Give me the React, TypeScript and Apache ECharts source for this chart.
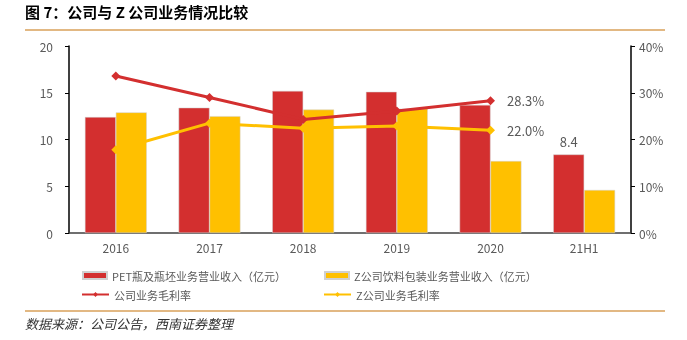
import React, { useEffect, useRef } from "react";
import * as echarts from "echarts";

const categories = ["2016", "2017", "2018", "2019", "2020", "21H1"];
const petRevenue = [12.4, 13.4, 15.2, 15.1, 13.7, 8.4];
const zRevenue = [12.9, 12.5, 13.2, 13.3, 7.7, 4.6];
const companyMargin = [33.6, 29.0, 24.3, 26.1, 28.3, null];
const zMargin = [17.8, 23.5, 22.4, 22.9, 22.0, null];
const leftTicks = { min: 0, max: 20, interval: 5 };
const rightTicks = { min: 0, max: 40, interval: 10 };

const RED = "#D32F2F";
const YELLOW = "#FFC000";
const GRAY = "#595959";
const FONT = "'Noto Sans CJK SC', 'Noto Sans', sans-serif";

export default function App() {
  const ref = useRef<HTMLDivElement>(null);
  useEffect(() => {
    const chart = echarts.init(ref.current!, null, { renderer: "svg" });
    const lastIdx = 4;
    const legendText = { color: GRAY, fontSize: 11 };
    chart.setOption({
      animation: false,
      textStyle: { fontFamily: FONT },
      grid: { left: 69, right: 56, top: 46, bottom: 107 },
      graphic: [
        {
          type: "text",
          left: 25,
          top: 4,
          style: { text: "图 7：公司与 Z 公司业务情况比较", font: `bold 15px ${FONT}`, fill: "#000" },
        },
        { type: "line", shape: { x1: 25, y1: 30, x2: 665, y2: 30 }, style: { stroke: "#D9A15A", lineWidth: 1.5 } },
        { type: "line", shape: { x1: 25, y1: 311, x2: 665, y2: 311 }, style: { stroke: "#D9A15A", lineWidth: 1.5 } },
        {
          type: "text",
          left: 25,
          top: 317,
          style: { text: "数据来源：公司公告，西南证券整理", font: `italic 13px ${FONT}`, fill: "#333" },
        },
      ],
      legend: [
        {
          left: 77, top: 265, itemWidth: 24, itemHeight: 7, itemGap: 10,
          textStyle: legendText,
          data: [{ name: "PET瓶及瓶坯业务营业收入（亿元）", icon: "rect" }],
        },
        {
          left: 319, top: 265, itemWidth: 24, itemHeight: 7,
          textStyle: legendText,
          data: [{ name: "Z公司饮料包装业务营业收入（亿元）", icon: "rect" }],
        },
        {
          left: 76, top: 284, itemWidth: 27, itemHeight: 6,
          textStyle: legendText,
          data: ["公司业务毛利率"],
        },
        {
          left: 318, top: 284, itemWidth: 27, itemHeight: 6,
          textStyle: legendText,
          data: ["Z公司业务毛利率"],
        },
      ],
      xAxis: {
        type: "category",
        data: categories,
        axisLine: { lineStyle: { color: "#404040", width: 1.5 } },
        axisTick: { show: false },
        axisLabel: { color: GRAY, fontSize: 12, margin: 8 },
      },
      yAxis: [
        {
          type: "value",
          ...leftTicks,
          splitLine: { show: false },
          axisLine: { show: true, lineStyle: { color: "#000", width: 1.5 } },
          axisTick: { show: true, length: 4, lineStyle: { color: "#000" } },
          axisLabel: { color: GRAY, fontSize: 12, margin: 16 },
        },
        {
          type: "value",
          ...rightTicks,
          position: "right",
          splitLine: { show: false },
          axisLine: { show: true, lineStyle: { color: "#000", width: 1.5 } },
          axisTick: { show: true, length: 4, lineStyle: { color: "#000" } },
          axisLabel: { color: GRAY, fontSize: 12, margin: 8, formatter: "{value}%" },
        },
      ],
      series: [
        {
          name: "PET瓶及瓶坯业务营业收入（亿元）",
          type: "bar",
          data: petRevenue.map((v, i) =>
            i === petRevenue.length - 1
              ? { value: v, label: { show: true, position: "top", distance: 6, color: GRAY, fontSize: 13, formatter: (p: any) => p.value.toFixed(1) } }
              : v
          ),
          barWidth: "33%",
          barGap: "0%",
          itemStyle: { color: RED, borderColor: "#d0d0d0", borderWidth: 0.5 },
        },
        {
          name: "Z公司饮料包装业务营业收入（亿元）",
          type: "bar",
          data: zRevenue,
          barWidth: "33%",
          barGap: "0%",
          itemStyle: { color: YELLOW, borderColor: "#d0d0d0", borderWidth: 0.5 },
        },
        {
          name: "公司业务毛利率",
          type: "line",
          yAxisIndex: 1,
          data: companyMargin.map((v, i) =>
            i === lastIdx
              ? { value: v, label: { show: true, position: "right", distance: 12, color: GRAY, fontSize: 13, formatter: (p: any) => p.value.toFixed(1) + "%" } }
              : v
          ),
          symbol: "diamond",
          symbolSize: 9,
          lineStyle: { color: RED, width: 3 },
          itemStyle: { color: RED },
        },
        {
          name: "Z公司业务毛利率",
          type: "line",
          yAxisIndex: 1,
          data: zMargin.map((v, i) =>
            i === lastIdx
              ? { value: v, label: { show: true, position: "right", distance: 12, color: GRAY, fontSize: 13, formatter: (p: any) => p.value.toFixed(1) + "%" } }
              : v
          ),
          symbol: "diamond",
          symbolSize: 9,
          lineStyle: { color: YELLOW, width: 3 },
          itemStyle: { color: YELLOW },
        },
      ],
    });
    return () => chart.dispose();
  }, []);
  return <div ref={ref} style={{ position: "fixed", left: 0, top: 0, width: 687, height: 340 }} />;
}
